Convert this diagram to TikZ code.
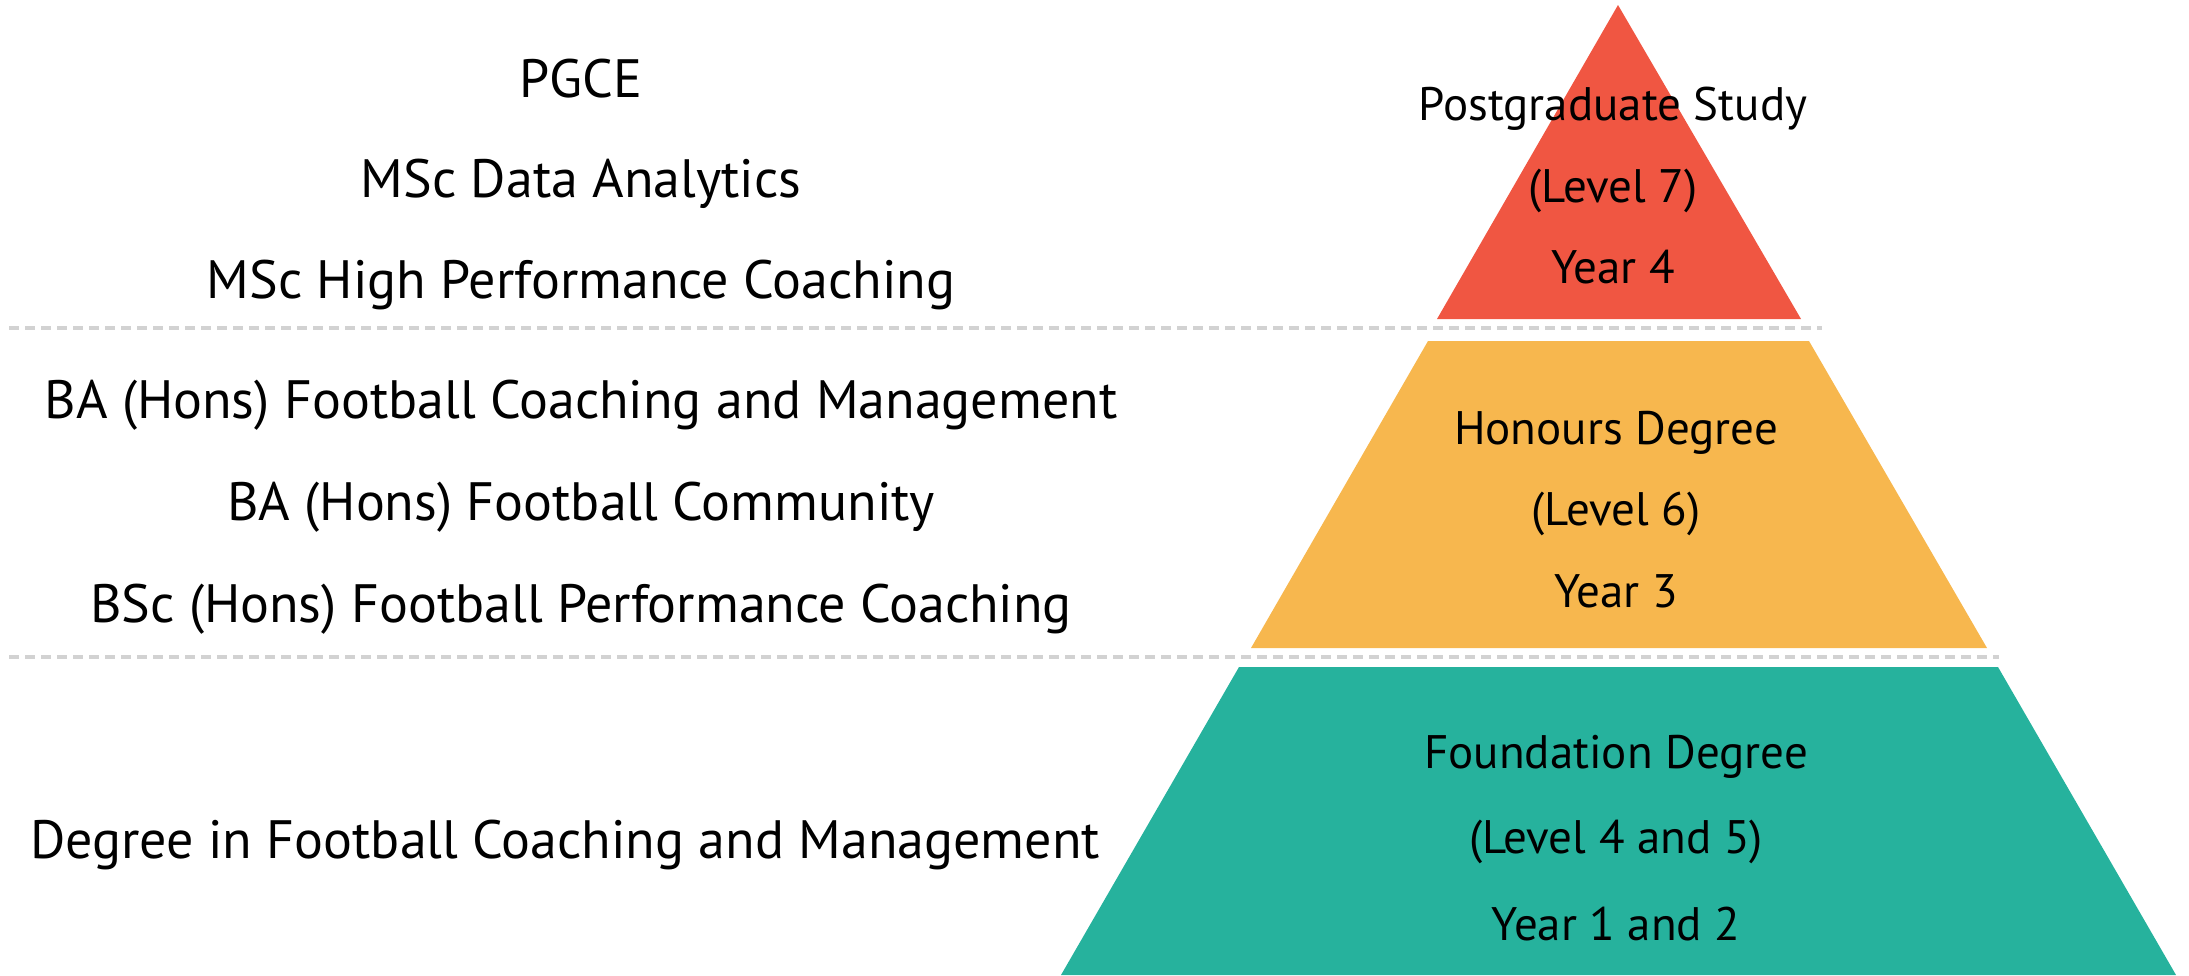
\documentclass[tikz,border=0pt]{standalone}
\usepackage{fontspec}
\setmainfont{PT Sans}
\definecolor{redc}{HTML}{F05642}
\definecolor{orangec}{HTML}{F7B74E}
\definecolor{tealc}{HTML}{26B29D}
\definecolor{sepc}{HTML}{D2D2D2}
\tikzset{
  sepline/.style={draw=sepc, line width=4.5pt, dash pattern=on 10pt off 6pt},
  lefttxt/.style={anchor=base, inner sep=0pt, font=\fontsize{54}{58}\selectfont},
  righttxt/.style={anchor=base, inner sep=0pt, font=\fontsize{47}{50}\selectfont},
}
\begin{document}
\begin{tikzpicture}[x=1pt,y=-1pt]
\useasboundingbox (0,0) rectangle (2189,975);
% pyramid layers
\fill[redc] (1618,5) -- (1801,319) -- (1437,319) -- cycle;
\fill[orangec] (1428,341) -- (1809,341) -- (1987,648) -- (1251,648) -- cycle;
\fill[tealc] (1239,667) -- (1998,667) -- (2176,975) -- (1061,975) -- cycle;
% separators
\coordinate (s1a) at (9,328);
\coordinate (s1b) at (1822,328);
\coordinate (s2a) at (9,657);
\coordinate (s2b) at (1999,657);
\draw[sepline] (s1a) -- (s1b);
\draw[sepline] (s2a) -- (s2b);
% left texts
\node[lefttxt] (pgce) at (581,97) {PGCE};
\node[lefttxt] (msda) at (581,197) {MSc Data Analytics};
\node[lefttxt] (mshp) at (581,298) {MSc High Performance Coaching};
\node[lefttxt] (bafcm) at (581,418) {BA (Hons) Football Coaching and Management};
\node[lefttxt] (bafc) at (581,520) {BA (Hons) Football Community};
\node[lefttxt] (bscfp) at (581,622) {BSc (Hons) Football Performance Coaching};
\node[lefttxt] (deg) at (565,858) {Degree in Football Coaching and Management};
% right texts
\node[righttxt] (pg1) at (1613,120) {Postgraduate Study};
\node[righttxt] (pg2) at (1613,202) {(Level 7)};
\node[righttxt] (pg3) at (1613,283) {Year 4};
\node[righttxt] (hd1) at (1616,444) {Honours Degree};
\node[righttxt] (hd2) at (1616,525) {(Level 6)};
\node[righttxt] (hd3) at (1616,607) {Year 3};
\node[righttxt] (fd1) at (1616,768) {Foundation Degree};
\node[righttxt] (fd2) at (1616,853) {(Level 4 and 5)};
\node[righttxt] (fd3) at (1616,940) {Year 1 and 2};
\end{tikzpicture}
\end{document}
